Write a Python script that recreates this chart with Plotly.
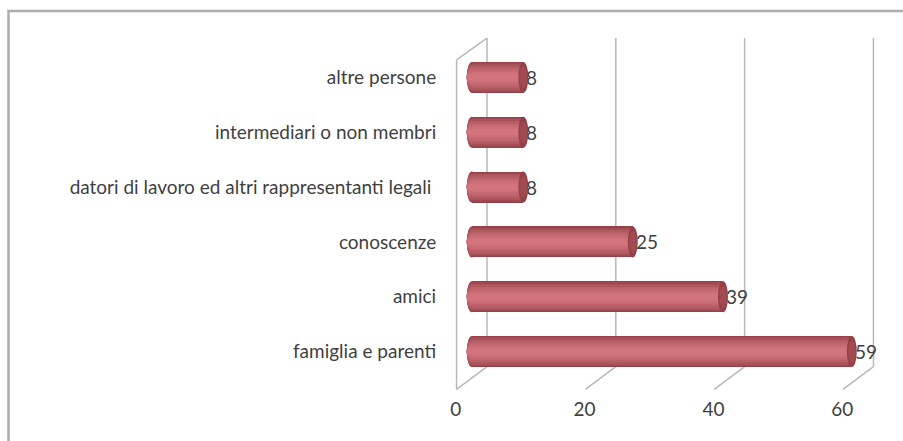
import plotly.graph_objects as go

# ---- data ----
categories = ["famiglia e parenti", "amici", "conoscenze",
              "datori di lavoro ed altri rappresentanti legali ",
              "intermediari o non membri", "altre persone"]
values = [59, 39, 25, 8, 8, 8]
x_ticks = [0, 20, 40, 60]

# ---- style ----
FONT = "Lato"
FS = 19
TEXT = "#3f3f3f"
GRID = "#b8b8b8"
BAR_W = 0.564
shades = [(1.00, "#97424a"), (0.93, "#9f4a51"), (0.85, "#a85259"),
          (0.76, "#b05961"), (0.66, "#b95f68"), (0.55, "#c1656e"),
          (0.44, "#c86a73"), (0.32, "#ce6f78"), (0.20, "#d3747d")]
CAP_OUT = "#973f46"
CAP_IN = "#a14a51"

W, H = 903, 441
ML, MR, MT, MB = 446.3, 19.2, 49.5, 61.5
XR = [-4, 64]
ppu = (W - ML - MR) / (XR[1] - XR[0])
plot_h = H - MT - MB


def py(pix):  # pixel row -> paper y
    return (H - MB - pix) / plot_h


def px(pix):  # pixel col -> paper x
    return (pix - ML) / (W - ML - MR)


d = 15.2 / ppu          # depth offset in data units
rx = 5.0 / ppu          # ellipse half width in data units
y_back_bot, y_top = py(367), py(37.5)
y_front_bot, y_wall_top = py(390), py(59.5)

fig = go.Figure()
for k, (f, c) in enumerate(shades):
    fig.add_trace(go.Bar(
        y=categories, x=values, orientation="h", width=BAR_W * f,
        marker=dict(color=c, line=dict(width=0)),
        text=[str(v) for v in values] if k == 0 else None,
        textposition="outside" if k == 0 else "none",
        textfont=dict(family=FONT, size=FS, color=TEXT),
        cliponaxis=False, hoverinfo="skip", showlegend=False))

shapes = []
# chart border
shapes.append(dict(type="rect", xref="paper", yref="paper",
                   x0=px(9.3), x1=px(912), y0=py(450), y1=py(10.3),
                   line=dict(color="#adadad", width=2.5), layer="below"))
# back wall gridlines and floor diagonals
for t in x_ticks:
    shapes.append(dict(type="line", xref="x", yref="paper",
                       x0=t + d, x1=t + d, y0=y_back_bot, y1=y_top,
                       line=dict(color=GRID, width=1.5), layer="below"))
    shapes.append(dict(type="line", xref="x", yref="paper",
                       x0=t + d, x1=t - d, y0=y_back_bot, y1=y_front_bot,
                       line=dict(color=GRID, width=1.5), layer="below"))
# left side wall
shapes.append(dict(type="line", xref="x", yref="paper",
                   x0=x_ticks[0] - d, x1=x_ticks[0] - d, y0=y_front_bot, y1=y_wall_top,
                   line=dict(color=GRID, width=1.5), layer="below"))
shapes.append(dict(type="line", xref="x", yref="paper",
                   x0=x_ticks[0] - d, x1=x_ticks[0] + d, y0=y_wall_top, y1=y_top,
                   line=dict(color=GRID, width=1.5), layer="below"))
# cylinder ends
for i, v in enumerate(values):
    for f, c in shades:
        h = BAR_W * f / 2
        shapes.append(dict(type="circle", xref="x", yref="y",
                           x0=-rx, x1=rx, y0=i - h, y1=i + h,
                           fillcolor=c, line=dict(width=0), layer="below"))
    h = BAR_W / 2
    shapes.append(dict(type="circle", xref="x", yref="y",
                       x0=v - rx, x1=v + rx, y0=i - h, y1=i + h,
                       fillcolor=CAP_OUT, line=dict(width=0), layer="above"))
    shapes.append(dict(type="circle", xref="x", yref="y",
                       x0=v - rx * 0.75, x1=v + rx * 0.75, y0=i - h * 0.7, y1=i + h * 0.7,
                       fillcolor=CAP_IN, line=dict(width=0), layer="above"))

fig.update_layout(
    width=W, height=H,
    margin=dict(l=ML, r=MR, t=MT, b=MB, pad=0),
    paper_bgcolor="white", plot_bgcolor="white",
    barmode="overlay", bargap=0,
    font=dict(family=FONT, size=FS, color=TEXT),
    shapes=shapes,
    xaxis=dict(range=XR, tickvals=x_ticks, showgrid=False, zeroline=False,
               showline=False, ticks="outside", ticklen=13,
               tickcolor="rgba(0,0,0,0)", ticklabelshift=-16,
               tickfont=dict(family=FONT, size=FS, color=TEXT)),
    yaxis=dict(type="category", categoryorder="array", categoryarray=categories,
               range=[-0.5, len(categories) - 0.5],
               showgrid=False, zeroline=False, showline=False,
               ticks="outside", ticklen=5, tickcolor="rgba(0,0,0,0)",
               tickfont=dict(family=FONT, size=FS, color=TEXT)),
)

fig.write_html("out.html", config={"displayModeBar": False},
               post_script="document.body.style.margin='0';document.body.style.overflow='hidden';")
